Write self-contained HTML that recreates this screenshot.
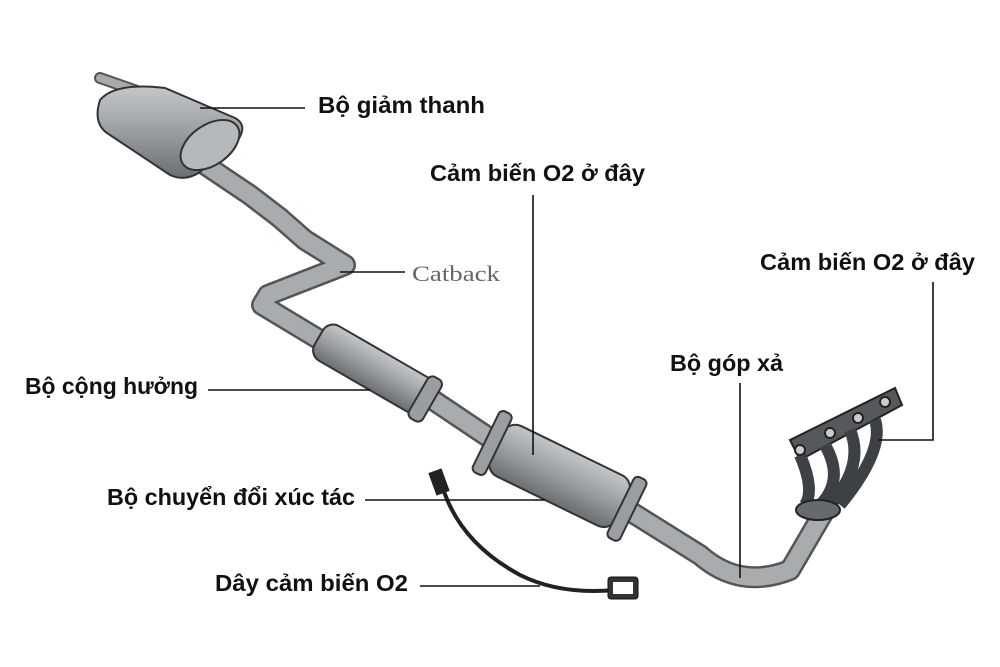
<!DOCTYPE html>
<html><head><meta charset="utf-8"><style>
html,body{margin:0;padding:0;background:#fff}
svg{display:block}
.l{font-family:"Liberation Sans","DejaVu Sans",sans-serif;font-weight:bold;font-size:23px;fill:#111}
</style></head><body>
<svg width="1000" height="667" viewBox="0 0 1000 667" xmlns="http://www.w3.org/2000/svg">
<defs>
<linearGradient id="g" x1="0" y1="0" x2="0" y2="1"><stop offset="0" stop-color="#c4c7ca"/><stop offset=".5" stop-color="#9a9ea2"/><stop offset="1" stop-color="#6a6e72"/></linearGradient>
</defs>
<path d="M100 78 L140 92" stroke="#555" stroke-width="12" stroke-linecap="round"/>
<path d="M100 78 L140 92" stroke="#aaa" stroke-width="8" stroke-linecap="round"/>
<g fill="none" stroke-linecap="round" stroke-linejoin="round">
<path d="M195 158 L250 195 L280 218 L305 240 L345 265 L268 295 L262 305 L320 340 M430 398 L500 445 M620 505 L700 555 Q740 590 790 570 L825 510" stroke="#555" stroke-width="22"/>
<path d="M195 158 L250 195 L280 218 L305 240 L345 265 L268 295 L262 305 L320 340 M430 398 L500 445 M620 505 L700 555 Q740 590 790 570 L825 510" stroke="#a8acaf" stroke-width="17"/>
</g>
<path d="M100 100 Q92 125 110 135 L170 175 Q185 182 200 172 L238 140 Q248 125 235 118 L165 88 Q115 82 100 100Z" fill="url(#g)" stroke="#333" stroke-width="2"/>
<ellipse cx="210" cy="145" rx="33" ry="20" transform="rotate(-35 210 145)" fill="#b5b9bc" stroke="#333" stroke-width="2"/>
<g transform="rotate(30 375 370)">
<rect x="310" y="350" width="130" height="40" rx="12" fill="url(#g)" stroke="#333" stroke-width="2"/>
<rect x="425" y="346" width="16" height="48" rx="6" fill="#9a9ea2" stroke="#333" stroke-width="2"/>
</g>
<g transform="rotate(26 560 475)">
<rect x="490" y="448" width="140" height="56" rx="14" fill="url(#g)" stroke="#333" stroke-width="2"/>
<rect x="478" y="442" width="14" height="68" rx="5" fill="#9a9ea2" stroke="#333" stroke-width="2"/>
<rect x="628" y="442" width="14" height="68" rx="5" fill="#9a9ea2" stroke="#333" stroke-width="2"/>
</g>
<g stroke="#222" stroke-width="2">
<path d="M790 440 L895 388 L902 405 L800 460Z" fill="#55595d"/>
<path d="M800 455 Q815 490 805 505 M825 445 Q845 480 820 505 M850 430 Q865 465 830 505 M875 420 Q885 450 840 505" stroke="#3d4145" stroke-width="12" fill="none"/>
<ellipse cx="818" cy="510" rx="22" ry="10" fill="#666a6e"/>
<circle cx="800" cy="450" r="5" fill="#ccc"/><circle cx="830" cy="433" r="5" fill="#ccc"/><circle cx="858" cy="418" r="5" fill="#ccc"/><circle cx="885" cy="402" r="5" fill="#ccc"/>
</g>
<path d="M440 478 Q455 540 520 575 Q560 595 615 590" fill="none" stroke="#222" stroke-width="4"/>
<rect x="432" y="470" width="14" height="24" fill="#222" transform="rotate(-20 439 482)"/>
<rect x="608" y="577" width="30" height="22" rx="3" fill="#333" stroke="#111"/>
<rect x="613" y="582" width="20" height="12" fill="#fff"/>
<g stroke="#111" stroke-width="1.6" fill="none">
<path d="M200 108 H305"/>
<path d="M533 195 V455"/>
<path d="M340 272 H405"/>
<path d="M933 282 V440 H878"/>
<path d="M740 383 V578"/>
<path d="M208 390 H370"/>
<path d="M365 500 H545"/>
<path d="M420 586 H540"/>
</g>
<text class="l" x="318" y="113" textLength="167" lengthAdjust="spacingAndGlyphs">Bộ giảm thanh</text>
<text class="l" x="430" y="181" textLength="215" lengthAdjust="spacingAndGlyphs">Cảm biến O2 ở đây</text>
<text x="412" y="281" font-family="Liberation Serif,serif" font-size="22" fill="#666" textLength="88" lengthAdjust="spacingAndGlyphs">Catback</text>
<text class="l" x="760" y="270" textLength="215" lengthAdjust="spacingAndGlyphs">Cảm biến O2 ở đây</text>
<text class="l" x="670" y="371" textLength="113" lengthAdjust="spacingAndGlyphs">Bộ góp xả</text>
<text class="l" x="25" y="394" textLength="173" lengthAdjust="spacingAndGlyphs">Bộ cộng hưởng</text>
<text class="l" x="107" y="505" textLength="248" lengthAdjust="spacingAndGlyphs">Bộ chuyển đổi xúc tác</text>
<text class="l" x="215" y="591" textLength="193" lengthAdjust="spacingAndGlyphs">Dây cảm biến O2</text>
</svg>
</body></html>
